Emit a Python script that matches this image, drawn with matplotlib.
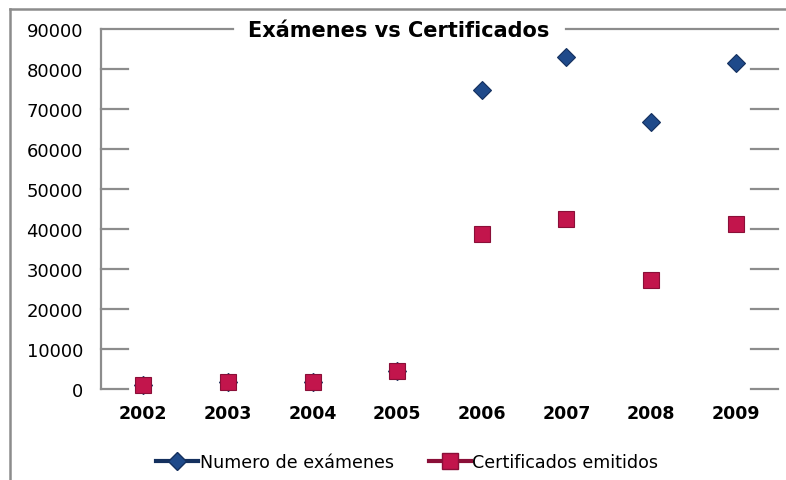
import matplotlib
matplotlib.use("Agg")
import matplotlib.pyplot as plt
from matplotlib.lines import Line2D

years = ["2002", "2003", "2004", "2005", "2006", "2007", "2008", "2009"]
examenes = [1000, 1800, 1800, 4500, 74700, 83000, 66800, 81600]
certificados = [1000, 1800, 1800, 4500, 38800, 42500, 27300, 41300]
yticks = [0, 10000, 20000, 30000, 40000, 50000, 60000, 70000, 80000, 90000]

W, H = 786, 481
fig = plt.figure(figsize=(W / 100, H / 100), dpi=100)
fig.patch.set_facecolor("white")

L, R, T, B = 101, 778, 30, 390
ax = fig.add_axes([L / W, 1 - B / H, (R - L) / W, (B - T) / H])
ax.set_facecolor("none")
x = list(range(len(years)))
ax.set_xlim(-0.5, len(years) - 0.5)
ax.set_ylim(0, 90000)

grid_c = "#8c8c8c"
seg = 27 / (R - L)
for v in yticks:
    if v == 90000:
        ax.axhline(v, xmin=0, xmax=(233 - L) / (R - L), color=grid_c, lw=1.6, clip_on=False)
        ax.axhline(v, xmin=(566 - L) / (R - L), xmax=1, color=grid_c, lw=1.6, clip_on=False)
    else:
        ax.axhline(v, xmin=0, xmax=seg, color=grid_c, lw=1.6, clip_on=False)
        ax.axhline(v, xmin=1 - seg, xmax=1, color=grid_c, lw=1.6, clip_on=False)

for s in ["top", "right", "bottom"]:
    ax.spines[s].set_visible(False)
ax.spines["left"].set_color(grid_c)
ax.spines["left"].set_linewidth(1.6)

ax.set_yticks(yticks)
ax.set_yticklabels([str(v) for v in yticks], fontsize=13, color="black")
ax.tick_params(axis="y", length=0, pad=13)
ax.set_xticks(x)
ax.set_xticklabels(years, fontsize=12.5, fontweight="bold")
ax.tick_params(axis="x", length=0, pad=11)

ex_c = "#1f4a8a"
ce_c = "#c2154c"
ax.plot(x, examenes, linestyle="none", marker="D", markersize=9,
        markerfacecolor=ex_c, markeredgecolor="#14305e", markeredgewidth=0.8, zorder=3,
        label="Numero de exámenes", clip_on=False)
ax.plot(x, certificados, linestyle="none", marker="s", markersize=12,
        markerfacecolor=ce_c, markeredgecolor="#8a0f38", markeredgewidth=0.8, zorder=4,
        label="Certificados emitidos", clip_on=False)

fig.text(399 / W, 1 - 31 / H, "Exámenes vs Certificados", fontsize=15, fontweight="bold",
         ha="center", va="center")

# outer frame (left and top)
fig.add_artist(Line2D([10 / W, 10 / W], [0, 1 - 10 / H], color=grid_c, lw=1.8))
fig.add_artist(Line2D([10 / W, 1], [1 - 10 / H, 1 - 10 / H], color=grid_c, lw=1.8))

h1 = Line2D([], [], color="#14305e", lw=3, marker="D", markersize=9,
            markerfacecolor=ex_c, markeredgecolor="#14305e")
h2 = Line2D([], [], color="#8a0f38", lw=3, marker="s", markersize=11,
            markerfacecolor=ce_c, markeredgecolor="#8a0f38")
fig.legend([h1, h2], ["Numero de exámenes", "Certificados emitidos"], loc="center",
           bbox_to_anchor=(407 / W, 1 - 463 / H), ncol=2, frameon=False, fontsize=12.6,
           handlelength=2.4, handletextpad=0.1, columnspacing=2.0)

fig.savefig("out.png", dpi=100)
